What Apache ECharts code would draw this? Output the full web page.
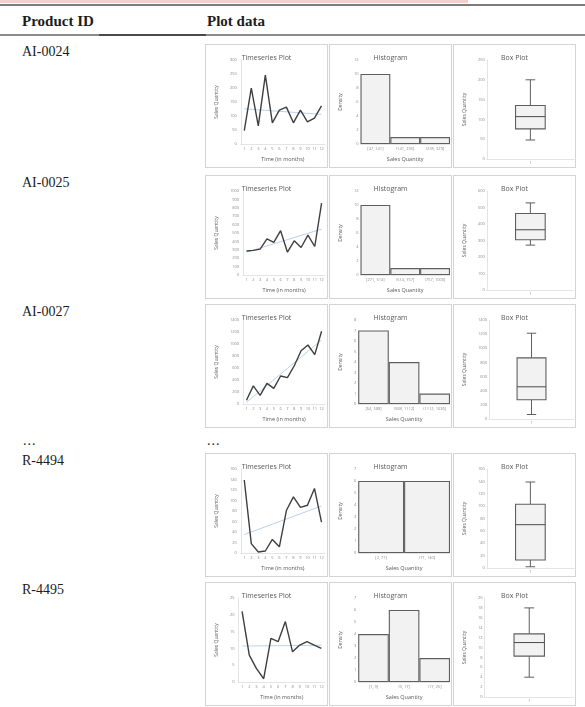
<!DOCTYPE html>
<html>
<head>
<meta charset="utf-8">
<script src="https://cdn.jsdelivr.net/npm/echarts@6/dist/echarts.min.js"></script>
<style>
  html, body { margin: 0; padding: 0; background: #fff; }
  body { width: 585px; height: 707px; position: relative; overflow: hidden;
         font-family: "Liberation Serif", "DejaVu Serif", serif; color: #1c1c1c; }
  .abs { position: absolute; }
  .head { font-size: 15px; font-weight: bold; line-height: 17px; white-space: nowrap; }
  .rowlabel { font-size: 14px; line-height: 16px; white-space: nowrap; }
  .panel { position: absolute; width: 123px; height: 124px; box-sizing: border-box;
           border: 1px solid #d4d4d4; background: #fff; }
  .panel > div { position: absolute; left: 0; top: 0; width: 121px; height: 122px; }
</style>
</head>
<body>
<div class="abs" style="left:0;top:0;width:468px;height:3px;background:#f8cdcd;"></div>
<div class="abs" style="left:0;top:4px;width:585px;height:2px;background:#7c7c7c;"></div>
<div class="abs head" style="left:22px;top:13px;">Product ID</div>
<div class="abs head" style="left:207px;top:13px;">Plot data</div>
<div class="abs" style="left:0;top:34px;width:585px;height:2px;background:#8c8c8c;"></div>
<div class="abs" style="left:99px;top:34px;width:107px;height:2px;background:#4a4a4a;"></div>
<div id="table"></div>
<script>
// ---- data ----
const productIds = ['AI-0024', 'AI-0025', 'AI-0027', 'R-4494', 'R-4495'];
const months = ['1', '2', '3', '4', '5', '6', '7', '8', '9', '10', '11', '12'];

// monthly sales quantity
const salesAI0024 = [48, 200, 65, 246, 76, 121, 132, 76, 121, 79, 93, 136];
const salesAI0025 = [287, 294, 309, 430, 389, 528, 272, 408, 328, 475, 340, 857];
const salesAI0027 = [64, 303, 144, 346, 261, 468, 441, 638, 888, 984, 824, 1213];
const salesR4494 = [139, 18, 2, 4, 26, 12, 81, 107, 87, 91, 123, 59];
const salesR4495 = [21, 8, 4, 1, 13, 12, 18, 9, 11, 12, 11, 10];

// histogram bins and counts
const binsAI0024 = ['[47, 141]', '(141, 235]', '(235, 329]'];
const countsAI0024 = [10, 1, 1];
const binsAI0025 = ['[271, 514]', '(514, 757]', '(757, 1000]'];
const countsAI0025 = [10, 1, 1];
const binsAI0027 = ['[64, 588]', '(588, 1112]', '(1112, 1636]'];
const countsAI0027 = [7, 4, 1];
const binsR4494 = ['[2, 71]', '(71, 140]'];
const countsR4494 = [6, 6];
const binsR4495 = ['[1, 9]', '(9, 17]', '(17, 25]'];
const countsR4495 = [4, 6, 2];

// box plot: lower whisker, Q1, median, Q3, upper whisker
const boxAI0024 = [48, 76, 107, 135, 200];
const boxAI0025 = [272, 305, 365, 464, 528];
const boxAI0027 = [64, 272, 455, 865, 1213];
const boxR4494 = [2, 13, 70, 103, 139];
const boxR4495 = [4, 8.25, 11, 12.75, 18];

// axis ranges per product
const tsAxisMax = [300, 1000, 1400, 160, 25];
const tsAxisStep = [50, 100, 200, 20, 5];
const histAxisMax = [12, 12, 8, 7, 7];
const histAxisStep = [2, 2, 1, 1, 1];
const boxAxisMax = [250, 600, 1400, 160, 20];
const boxAxisStep = [50, 100, 200, 20, 2];

const salesByProduct = [salesAI0024, salesAI0025, salesAI0027, salesR4494, salesR4495];
const binsByProduct = [binsAI0024, binsAI0025, binsAI0027, binsR4494, binsR4495];
const countsByProduct = [countsAI0024, countsAI0025, countsAI0027, countsR4494, countsR4495];
const boxByProduct = [boxAI0024, boxAI0025, boxAI0027, boxR4494, boxR4495];

// ---- layout ----
const rowTops = [44, 175, 304, 453, 582];
const colLefts = [205, 329, 453];
const FONT = '"Open Sans", "Noto Sans", sans-serif';
const TITLE_COLOR = '#595959';
const LABEL_COLOR = '#8a8a8a';
const AXIS_COLOR = '#d9d9d9';
const MARK_STROKE = '#5f5f5f';
const MARK_FILL = '#f2f2f2';

// least-squares linear trend evaluated at each month
function linearTrend(values) {
  const n = values.length;
  let sx = 0, sy = 0, sxx = 0, sxy = 0;
  values.forEach((v, i) => { const x = i + 1; sx += x; sy += v; sxx += x * x; sxy += x * v; });
  const slope = (n * sxy - sx * sy) / (n * sxx - sx * sx);
  const icpt = (sy - slope * sx) / n;
  return values.map((_, i) => +(icpt + slope * (i + 1)).toFixed(2));
}

function title(text) {
  return { text, left: 'center', top: 4,
    textStyle: { fontSize: 7, fontWeight: 'normal', color: TITLE_COLOR, fontFamily: FONT } };
}
function axisLabel(margin) {
  return { fontSize: 4, color: LABEL_COLOR, fontFamily: FONT, margin,
           interval: 0, formatter: v => String(v) };
}
function nameStyle(size) {
  return { fontSize: size, color: TITLE_COLOR, fontFamily: FONT };
}
const faintLine = { show: true, lineStyle: { color: AXIS_COLOR, width: 0.7 } };

function timeseriesOption(i) {
  const sales = salesByProduct[i];
  return {
    animation: false,
    title: title('Timeseries Plot'),
    grid: { left: 24, right: 2, top: 15, bottom: 19 },
    xAxis: {
      type: 'category', data: months, boundaryGap: true,
      name: 'Time (in months)', nameLocation: 'middle', nameGap: 8, nameTextStyle: nameStyle(5.5),
      axisLine: faintLine, axisTick: { show: false }, axisLabel: axisLabel(3)
    },
    yAxis: {
      type: 'value', min: 0, max: tsAxisMax[i], interval: tsAxisStep[i],
      name: 'Sales Quantity', nameLocation: 'middle', nameGap: 14, nameTextStyle: nameStyle(5),
      axisLine: faintLine, axisTick: { show: false }, splitLine: { show: false },
      axisLabel: axisLabel(4)
    },
    series: [
      { type: 'line', data: sales, symbol: 'none', z: 3,
        lineStyle: { color: '#3f3f3f', width: 1.4 } },
      { type: 'line', data: linearTrend(sales), symbol: 'none', z: 2,
        lineStyle: { color: '#9dbbe3', width: 0.7 } }
    ]
  };
}

function histogramOption(i) {
  return {
    animation: false,
    title: title('Histogram'),
    grid: { left: 15, right: 1, top: 15, bottom: 15 },
    xAxis: {
      type: 'category', data: binsByProduct[i],
      name: 'Sales Quantity', nameLocation: 'middle', nameGap: 8, nameTextStyle: nameStyle(5.5),
      axisLine: faintLine, axisTick: { show: false }, axisLabel: axisLabel(3)
    },
    yAxis: {
      type: 'value', min: 0, max: histAxisMax[i], interval: histAxisStep[i],
      name: 'Density', nameLocation: 'middle', nameGap: 9, nameTextStyle: nameStyle(5),
      axisLine: { show: false }, axisTick: { show: false }, splitLine: { show: false },
      axisLabel: axisLabel(2)
    },
    series: [{
      type: 'bar', data: countsByProduct[i], barCategoryGap: '0%',
      itemStyle: { color: MARK_FILL, borderColor: MARK_STROKE, borderWidth: 1.1 }
    }]
  };
}

function boxOption(i) {
  const b = boxByProduct[i];
  return {
    animation: false,
    title: title('Box Plot'),
    grid: { left: 18, right: 1, top: 15, bottom: 8 },
    xAxis: {
      type: 'category', data: ['1'],
      axisLine: faintLine, axisTick: { show: false }, axisLabel: axisLabel(2)
    },
    yAxis: {
      type: 'value', min: 0, max: boxAxisMax[i], interval: boxAxisStep[i],
      name: 'Sales Quantity', nameLocation: 'middle', nameGap: 11, nameTextStyle: nameStyle(5),
      axisLine: faintLine, axisTick: { show: false }, splitLine: { show: false },
      axisLabel: axisLabel(2)
    },
    series: [{
      type: 'custom',
      data: [[0, b[0], b[1], b[2], b[3], b[4]]],
      renderItem: function (params, api) {
        const c = api.value(0);
        const pLo = api.coord([c, api.value(1)]);
        const pQ1 = api.coord([c, api.value(2)]);
        const pMd = api.coord([c, api.value(3)]);
        const pQ3 = api.coord([c, api.value(4)]);
        const pHi = api.coord([c, api.value(5)]);
        const band = api.size([1, 0])[0];
        const half = band * 0.17;
        const cap = band * 0.055;
        const x = pMd[0];
        const line = (x1, y1, x2, y2, color, w) => ({
          type: 'line', shape: { x1, y1, x2, y2 },
          style: { stroke: color, lineWidth: w }
        });
        return {
          type: 'group',
          children: [
            line(x, pHi[1], x, pQ3[1], MARK_STROKE, 1),
            line(x, pQ1[1], x, pLo[1], MARK_STROKE, 1),
            line(x - cap, pHi[1], x + cap, pHi[1], MARK_STROKE, 1),
            line(x - cap, pLo[1], x + cap, pLo[1], MARK_STROKE, 1),
            { type: 'rect',
              shape: { x: x - half, y: pQ3[1], width: half * 2, height: pQ1[1] - pQ3[1] },
              style: { fill: MARK_FILL, stroke: MARK_STROKE, lineWidth: 1.1 } },
            line(x - half, pMd[1], x + half, pMd[1], '#4a4a4a', 1)
          ]
        };
      }
    }]
  };
}

// ---- build the table ----
const table = document.getElementById('table');
function addDiv(cls, style, text) {
  const d = document.createElement('div');
  d.className = cls;
  Object.assign(d.style, style);
  if (text !== undefined) d.textContent = text;
  table.appendChild(d);
  return d;
}

productIds.forEach((id, i) => {
  const top = rowTops[i];
  addDiv('abs rowlabel', { left: '22px', top: top + 'px' }, id);
  const builders = [timeseriesOption, histogramOption, boxOption];
  builders.forEach((build, c) => {
    const panel = addDiv('panel', { left: colLefts[c] + 'px', top: top + 'px' });
    const host = document.createElement('div');
    panel.appendChild(host);
    const chart = echarts.init(host);
    chart.setOption(build(i));
  });
});

// ellipsis row between the listed products
addDiv('abs rowlabel', { left: '23px', top: '433px', letterSpacing: '1px' }, '...');
addDiv('abs rowlabel', { left: '207px', top: '433px', letterSpacing: '1px' }, '...');
</script>
</body>
</html>
